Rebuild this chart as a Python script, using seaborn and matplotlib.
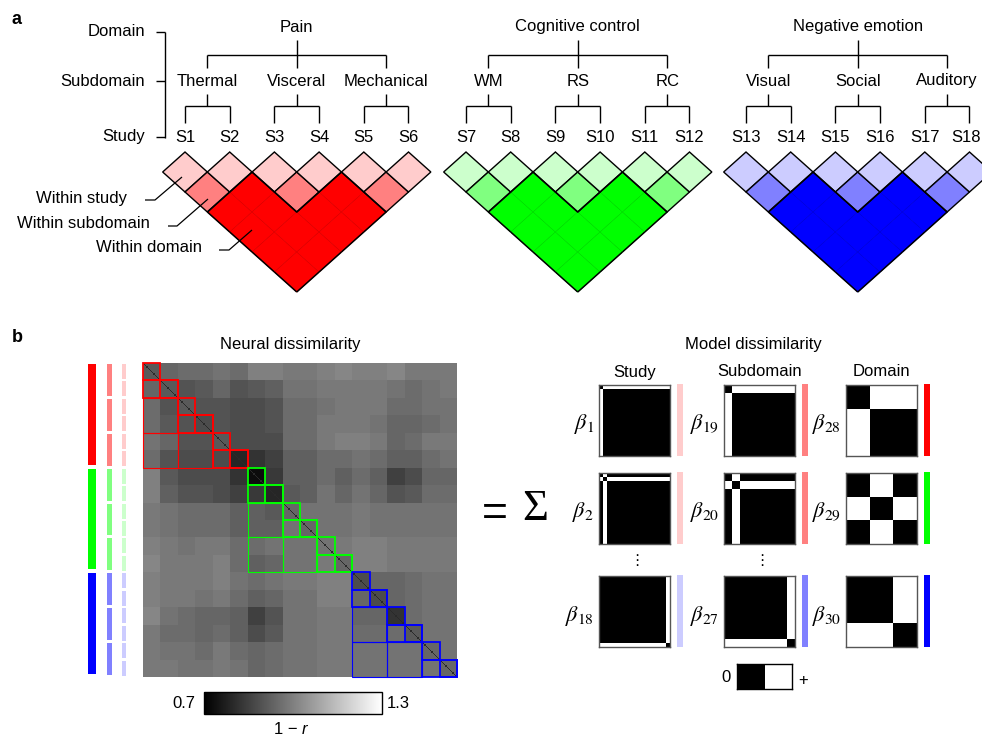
import numpy as np
import matplotlib
matplotlib.use('Agg')
import matplotlib.pyplot as plt
from matplotlib.patches import Polygon, Rectangle
from matplotlib.colors import ListedColormap
import seaborn as sns

# ---- data ----
domains = ['Pain', 'Cognitive control', 'Negative emotion']
subdomains = ['Thermal', 'Visceral', 'Mechanical', 'WM', 'RS', 'RC',
              'Visual', 'Social', 'Auditory']
studies = ['S1', 'S2', 'S3', 'S4', 'S5', 'S6', 'S7', 'S8', 'S9',
           'S10', 'S11', 'S12', 'S13', 'S14', 'S15', 'S16', 'S17', 'S18']
study_subdomain = [0, 0, 1, 1, 2, 2, 3, 3, 4, 4, 5, 5, 6, 6, 7, 7, 8, 8]
subdomain_domain = [0, 0, 0, 1, 1, 1, 2, 2, 2]
subjects_per_study = 15

# study-by-study mean neural dissimilarity (1 - r)
block_dissim = [
    [0.91, 0.97, 1.00, 1.00, 1.00, 1.00, 1.06, 1.06, 1.00, 1.00, 1.00, 1.03, 1.00, 1.03, 1.06, 1.00, 1.00, 1.00],
    [0.91, 0.91, 0.91, 0.94, 0.94, 0.91, 0.91, 0.94, 0.97, 0.97, 0.97, 0.97, 0.97, 1.00, 1.00, 0.97, 0.97, 1.00],
    [0.91, 0.88, 0.91, 0.91, 0.88, 0.88, 0.85, 0.88, 0.94, 0.94, 0.94, 0.97, 1.00, 1.00, 0.97, 0.94, 0.97, 0.97],
    [0.91, 0.88, 0.88, 0.88, 0.88, 0.88, 0.85, 0.88, 0.94, 0.94, 0.97, 0.97, 1.00, 0.97, 0.97, 0.94, 0.94, 0.97],
    [0.94, 0.94, 0.91, 0.91, 0.91, 0.88, 0.88, 0.88, 0.94, 0.94, 0.97, 1.00, 1.03, 1.00, 0.97, 0.97, 1.00, 1.00],
    [0.91, 0.88, 0.88, 0.88, 0.88, 0.79, 0.82, 0.85, 0.91, 0.91, 0.94, 0.94, 0.97, 0.97, 0.94, 0.94, 0.94, 0.97],
    [0.94, 0.91, 0.91, 0.91, 0.88, 0.82, 0.73, 0.85, 0.91, 0.91, 0.94, 0.91, 0.97, 0.94, 0.91, 0.88, 0.91, 0.91],
    [0.94, 0.91, 0.91, 0.91, 0.88, 0.85, 0.82, 0.79, 0.88, 0.91, 0.94, 0.91, 0.97, 0.94, 0.91, 0.91, 0.94, 0.94],
    [0.97, 0.97, 0.97, 0.97, 0.97, 0.94, 0.94, 0.94, 0.94, 0.97, 0.97, 0.97, 0.97, 0.97, 0.97, 0.97, 0.97, 0.97],
    [0.97, 0.97, 0.97, 0.97, 0.97, 0.94, 0.94, 0.94, 0.97, 0.94, 0.97, 0.97, 0.97, 0.97, 0.97, 0.97, 0.97, 0.97],
    [1.00, 1.00, 1.00, 1.00, 1.00, 0.97, 0.97, 1.00, 0.97, 0.97, 0.97, 1.00, 1.00, 1.00, 1.00, 1.00, 1.00, 1.00],
    [1.00, 1.00, 1.00, 1.00, 1.00, 0.97, 0.94, 0.97, 0.97, 0.97, 0.97, 0.94, 1.00, 1.00, 1.00, 1.00, 1.00, 1.00],
    [1.00, 1.00, 0.97, 0.97, 0.97, 0.97, 0.94, 0.97, 1.00, 1.00, 1.00, 1.00, 0.88, 0.94, 0.94, 0.97, 0.97, 0.97],
    [0.97, 0.97, 0.97, 0.97, 0.97, 0.94, 0.91, 0.94, 0.97, 0.97, 1.00, 1.00, 0.94, 0.88, 0.94, 0.94, 0.97, 0.97],
    [0.97, 0.94, 0.94, 0.91, 0.91, 0.91, 0.79, 0.88, 0.97, 0.97, 0.97, 0.97, 0.94, 0.94, 0.82, 0.94, 0.97, 0.97],
    [0.97, 0.94, 0.97, 0.94, 0.94, 0.91, 0.88, 0.91, 0.97, 0.97, 0.97, 0.97, 0.94, 0.97, 0.97, 0.91, 0.97, 0.97],
    [0.97, 0.97, 0.97, 0.97, 0.97, 0.97, 0.97, 0.97, 0.97, 0.97, 0.97, 0.97, 0.97, 0.97, 0.97, 0.97, 0.94, 0.97],
    [0.97, 0.97, 0.97, 0.97, 0.97, 0.97, 0.97, 0.97, 0.97, 0.97, 0.97, 0.97, 0.97, 0.97, 0.97, 0.97, 0.97, 0.94],
]
cbar_limits = (0.7, 1.3)

# (beta number, index of study / subdomain / domain)
study_betas = [(1, 0), (2, 1), (18, 17)]
subdomain_betas = [(19, 0), (20, 1), (27, 8)]
domain_betas = [(28, 0), (29, 1), (30, 2)]

# full, mid, light shades per domain
shades = [['#ff0000', '#ff8080', '#ffcccc'],
          ['#00ff00', '#80ff80', '#ccffcc'],
          ['#0000ff', '#8080ff', '#ccccff']]

# ---- figure ----
W, H = 982, 739
sns.set_theme(style='white')
plt.rcParams['font.family'] = ['Liberation Sans', 'DejaVu Sans']
plt.rcParams['mathtext.fontset'] = 'stix'
plt.rcParams['text.color'] = 'black'
fig = plt.figure(figsize=(W / 100, H / 100), dpi=100)
ax0 = fig.add_axes([0, 0, 1, 1])
ax0.set_xlim(0, W)
ax0.set_ylim(H, 0)
ax0.axis('off')


def px_axes(x, y, w, h):
    return fig.add_axes([x / W, 1 - (y + h) / H, w / W, h / H])


def line(pts, lw=1.0, color='black'):
    xs, ys = zip(*pts)
    ax0.plot(xs, ys, color=color, lw=lw, solid_capstyle='butt')


FS = 12
study_of_domain = [[k for k in range(18) if subdomain_domain[study_subdomain[k]] == d] for d in range(3)]
group_x0 = [185, 466, 746]
step = 44.7
hw, hh = step / 2, 20
top_y = 172


def sx(k):
    return group_x0[k // 6] + (k % 6) * step


# ---- panel a ----
ax0.text(12, 19, 'a', fontsize=FS + 1, fontweight='bold', va='center')
for lab, y in [('Domain', 32), ('Subdomain', 81), ('Study', 137)]:
    ax0.text(145, y, lab, fontsize=FS, ha='right', va='center')
    line([(156, y), (165, y)])
line([(165, 31.5), (165, 137.5)])

for d, dname in enumerate(domains):
    subs = [s for s in range(9) if subdomain_domain[s] == d]
    centers = []
    for s in subs:
        ks = [k for k in range(18) if study_subdomain[k] == s]
        xc = (sx(ks[0]) + sx(ks[-1])) / 2
        centers.append(xc)
        ax0.text(xc, 81, subdomains[s], fontsize=FS, ha='center', va='center')
        line([(xc, 94), (xc, 106)])
        line([(sx(ks[0]), 106), (sx(ks[-1]), 106)])
        for k in ks:
            line([(sx(k), 105.5), (sx(k), 123)])
            ax0.text(min(sx(k), W - 16), 137, studies[k], fontsize=FS, ha='center', va='center')
    dc = centers[1]
    ax0.text(dc, 27, dname, fontsize=FS, ha='center', va='center')
    line([(dc, 40), (dc, 55)])
    line([(centers[0], 55), (centers[-1], 55)])
    for xc in centers:
        line([(xc, 54.5), (xc, 68)])

    # triangular diamond matrix, built on an integer lattice (u = a+b, v = b-a)
    x0 = group_x0[d]
    edge_count = {}
    full_cells, other_cells = [], []
    ks = study_of_domain[d]
    for a in range(6):
        for b in range(a, 6):
            i, j = ks[a], ks[b]
            u, v = a + b, b - a
            lat = [(u, v - 1), (u + 1, v), (u, v + 1), (u - 1, v)]
            if a == b:
                other_cells.append((lat, shades[d][2]))
            elif study_subdomain[i] == study_subdomain[j]:
                other_cells.append((lat, shades[d][1]))
            else:
                full_cells.append(lat)
                for e in range(4):
                    key = tuple(sorted([lat[e], lat[(e + 1) % 4]]))
                    edge_count[key] = edge_count.get(key, 0) + 1

    def to_px(p):
        return (x0 + p[0] * hw, top_y + p[1] * hh)

    for lat in full_cells:
        pts = [to_px(p) for p in lat]
        ax0.add_patch(Polygon(pts, closed=True, facecolor=shades[d][0],
                              edgecolor=shades[d][0], lw=0.6))
        ax0.add_patch(Polygon(pts, closed=True, fill=False, edgecolor='black', lw=0.3, alpha=0.2))
    for lat, c in other_cells:
        pts = [to_px(p) for p in lat]
        ax0.add_patch(Polygon(pts, closed=True, facecolor=c, edgecolor='black', lw=1.0))
    for key, cnt in edge_count.items():
        if cnt == 1:
            line([to_px(p) for p in key], lw=1.1)

# leader annotations
ax0.text(127, 198, 'Within study', fontsize=FS, ha='right', va='center')
line([(145, 200), (155, 200), (182, 177)], lw=0.9)
ax0.text(150, 224, 'Within subdomain', fontsize=FS, ha='right', va='center')
line([(168, 226), (177, 226), (208, 199)], lw=0.9)
ax0.text(202, 248, 'Within domain', fontsize=FS, ha='right', va='center')
line([(219, 250), (229, 250), (252, 230)], lw=0.9)

# ---- panel b : neural dissimilarity ----
ax0.text(12, 337, 'b', fontsize=FS + 1, fontweight='bold', va='center')
mx, my, msz = 143, 363, 314
ax0.text(mx + msz / 2 - 10, 345, 'Neural dissimilarity', fontsize=FS, ha='center', va='center')

n = subjects_per_study
blocks = np.array(block_dissim)
blocks = (blocks + blocks.T) / 2
neural = np.kron(blocks, np.ones((n, n)))
np.fill_diagonal(neural, 0.8)

axm = px_axes(mx, my, msz, msz)
cax = px_axes(204, 692, 178, 22)
sns.heatmap(neural, ax=axm, cmap='gray', vmin=cbar_limits[0], vmax=cbar_limits[1],
            xticklabels=False, yticklabels=False, cbar_ax=cax,
            cbar_kws={'orientation': 'horizontal', 'ticks': []}, rasterized=True)
cb = axm.collections[0].colorbar
cb.outline.set_edgecolor('black')
cb.outline.set_linewidth(1.0)
cax.tick_params(length=0)
ax0.text(195, 704, f'{cbar_limits[0]:.1f}', fontsize=FS, ha='right', va='center')
ax0.text(387, 704, f'{cbar_limits[1]:.1f}', fontsize=FS, ha='left', va='center')
ax0.text(298, 730, '1 \u2212', fontsize=FS, ha='right', va='center')
ax0.text(302, 730, 'r', fontsize=FS, ha='left', va='center', style='italic')

# outlines of study / subdomain / domain blocks
for d in range(3):
    col = shades[d][0]
    subs = [s for s in range(9) if subdomain_domain[s] == d]
    for a in range(3):
        for b in range(a):
            ra = study_subdomain.index(subs[a]) * n
            cb0 = study_subdomain.index(subs[b]) * n
            axm.add_patch(Rectangle((cb0, ra), 2 * n, 2 * n, fill=False,
                                    edgecolor=col, lw=0.8, clip_on=False))
    for s in subs:
        k0 = study_subdomain.index(s)
        axm.add_patch(Rectangle((k0 * n, (k0 + 1) * n), 2 * n, n, fill=False,
                                edgecolor=col, lw=1.3, clip_on=False))
        for k in (k0, k0 + 1):
            axm.add_patch(Rectangle((k * n, k * n), n, n, fill=False,
                                    edgecolor=col, lw=1.3, clip_on=False))

# side bars marking domain / subdomain / study rows
unit = msz / 18
for d in range(3):
    ks = study_of_domain[d]
    y0 = my + ks[0] * unit
    ax0.add_patch(Rectangle((88, y0 + 1), 8, 6 * unit - 4, color=shades[d][0], lw=0))
    for s in [s for s in range(9) if subdomain_domain[s] == d]:
        y0 = my + study_subdomain.index(s) * unit
        ax0.add_patch(Rectangle((107, y0 + 1), 5, 2 * unit - 3, color=shades[d][1], lw=0))
    for k in ks:
        y0 = my + k * unit
        ax0.add_patch(Rectangle((122, y0 + 1), 4, unit - 2.5, color=shades[d][2], lw=0))

# = sum
ax0.text(495, 514, '=', fontsize=32, ha='center', va='center')
ax0.text(535, 509, '\u03a3', fontsize=32, ha='center', va='center', family='Liberation Serif')

# ---- model dissimilarity ----
ax0.text(753, 345, 'Model dissimilarity', fontsize=FS, ha='center', va='center')
col_x = [599, 724, 846]
row_y = [385, 473, 576]
msize = 71
for cx, head in zip(col_x, ['Study', 'Subdomain', 'Domain']):
    ax0.text(cx + msize / 2, 372, head, fontsize=FS, ha='center', va='center')

dom_of_study = np.array([subdomain_domain[s] for s in study_subdomain])
sub_of_study = np.array(study_subdomain)
study_idx = np.arange(18)
bw = ListedColormap(['black', 'white'])

columns = [
    (study_betas, study_idx, lambda k: shades[dom_of_study[k]][2]),
    (subdomain_betas, sub_of_study, lambda s: shades[subdomain_domain[s]][1]),
    (domain_betas, dom_of_study, lambda d: shades[d][0]),
]
for c, (betas, member, colfn) in enumerate(columns):
    for r, (bnum, idx) in enumerate(betas):
        inside = member == idx
        model = (inside[:, None] != inside[None, :]).astype(int)
        axb = px_axes(col_x[c], row_y[r], msize, msize)
        sns.heatmap(model, ax=axb, cmap=bw, vmin=0, vmax=1, cbar=False,
                    xticklabels=False, yticklabels=False)
        for sp in axb.spines.values():
            sp.set_visible(True)
            sp.set_edgecolor('#555555')
            sp.set_linewidth(1.0)
        ax0.add_patch(Rectangle((col_x[c] + msize + 7, row_y[r] - 1), 6, msize + 1,
                                color=colfn(idx), lw=0))
        ax0.text(col_x[c] - 5, row_y[r] + msize / 2 + 4, rf'$\beta_{{{bnum}}}$',
                 fontsize=16, ha='right', va='center')

for cx in col_x[:2]:
    ax0.text(cx + 38, 560, '\u22ee', fontsize=11, ha='center', va='center',
             family=['DejaVu Sans'])

# 0 / + legend
axl = px_axes(737, 664, 55, 25)
sns.heatmap([[0, 1]], ax=axl, cmap=bw, vmin=0, vmax=1, cbar=False,
            xticklabels=False, yticklabels=False)
for sp in axl.spines.values():
    sp.set_visible(True)
    sp.set_edgecolor('black')
    sp.set_linewidth(1.0)
ax0.text(731, 678, '0', fontsize=FS, ha='right', va='center')
ax0.text(798, 680, '+', fontsize=FS, ha='left', va='center')

fig.savefig('out.png', dpi=100, facecolor='white')
